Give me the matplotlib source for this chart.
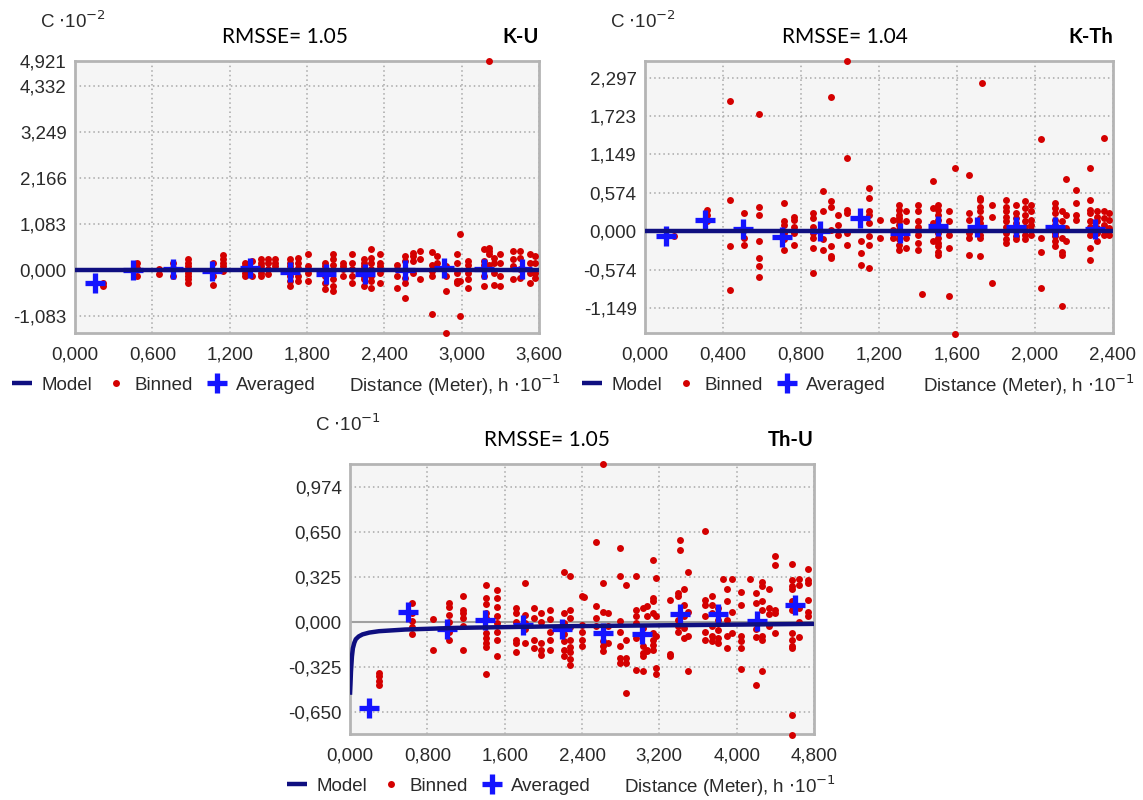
import matplotlib
matplotlib.use("Agg")
import matplotlib.pyplot as plt
from matplotlib import font_manager

# ---------------- data ----------------
# Panel K-U (C x10^-2, h x10^-1)
ku_bin_x = [0.22, 0.48, 0.65, 0.76, 0.88, 1.07, 1.15, 1.32, 1.37, 1.44, 1.50, 1.55,
            1.67, 1.73, 1.81, 1.94, 2.00, 2.08, 2.15, 2.24, 2.30, 2.37, 2.50, 2.56,
            2.62, 2.68, 2.77, 2.81, 2.88, 2.96, 2.99, 3.05, 3.17, 3.21, 3.25, 3.30,
            3.40, 3.45, 3.53, 3.57]
ku_bin_y = [[-0.30, -0.38], [0.17, -0.14, 0.05], [0.02, -0.10], [0.17, -0.14, 0.05],
            [0.25, 0.17, 0.09, 0.0, -0.06, -0.14, -0.22, -0.30], [0.17, -0.14, -0.34],
            [0.35, 0.25, 0.17, 0.09, -0.02], [0.17, 0.09, -0.06, -0.14], [0.21, -0.14],
            [0.25, 0.17, 0.09, -0.06, -0.14], [0.25, 0.17, 0.02, -0.10], [0.25, 0.17, 0.09],
            [0.25, 0.17, 0.09, -0.06, -0.14, -0.26, -0.38], [0.29, 0.17, 0.05, -0.14, -0.26],
            [0.37, 0.09, -0.06, -0.26], [0.17, 0.09, -0.02, -0.14, -0.30, -0.45],
            [0.39, 0.25, 0.13, -0.22, -0.38, -0.49], [0.17, 0.09, 0.02, -0.14],
            [0.39, 0.17, 0.02, -0.14, -0.30], [0.25, 0.17, 0.09, 0.02, -0.14, -0.22, -0.38],
            [0.49, 0.29, 0.17, 0.02, -0.14, -0.26, -0.42], [0.37, 0.17, 0.09, -0.06, -0.30],
            [0.13, 0.02, -0.14, -0.42], [0.33, 0.21, -0.18, -0.30, -0.65],
            [0.41, 0.33, 0.21, -0.06], [0.45, 0.25, -0.22], [0.42, 0.13, -0.02, -0.14, -1.04],
            [0.33, 0.17], [0.09, -0.14, -0.49, -1.47], [0.37, 0.17, -0.06, -0.26, -0.30],
            [0.84, -0.26, -1.08], [0.21, 0.13, -0.06, -0.22, -0.42],
            [0.49, 0.21, 0.13, -0.14, -0.38], [0.53, 0.45, 0.37, 0.13, 4.92],
            [0.29, 0.17, -0.06, -0.34], [0.37, 0.17, -0.14, -0.38], [0.45, 0.25, 0.09, -0.22],
            [0.45, 0.29, 0.02, -0.18], [0.37, 0.17, -0.06, -0.30], [0.33, 0.17, -0.06, -0.18]]
ku_avg_x = [0.155, 0.45, 0.76, 1.06, 1.36, 1.67, 1.95, 2.25, 2.56, 2.86, 3.17, 3.47]
ku_avg_y = [-0.31, 0.0, 0.03, -0.02, 0.04, -0.05, -0.09, -0.08, 0.0, 0.05, 0.03, 0.03]
ku_model_x = [0.0, 3.6]
ku_model_y = [0.0, 0.0]

# Panel K-Th (C x10^-2, h x10^-1)
kth_bin_x = [0.15, 0.32, 0.434, 0.51, 0.584, 0.714, 0.766, 0.864, 0.912, 0.955, 0.99,
             1.037, 1.11, 1.147, 1.207, 1.27, 1.30, 1.34, 1.40, 1.42, 1.476, 1.50, 1.56,
             1.59, 1.66, 1.72, 1.73, 1.78, 1.85, 1.90, 1.95, 1.98, 2.03, 2.10, 2.14, 2.16,
             2.21, 2.28, 2.32, 2.356, 2.38]
kth_bin_y = [[-0.075], [0.32, 0.25, 0.15], [1.94, 0.47, -0.22, -0.88], [0.27, 0.02, -0.10, -0.20],
             [1.75, 0.37, 0.25, -0.15, -0.40, -0.52, -0.68], [0.42, 0.15, 0.10, -0.02, -0.12, -0.27],
             [0.22, 0.17, 0.07, -0.02, -0.20], [0.27, 0.20, 0.07, -0.02, -0.10, -0.25, -0.62],
             [0.60, 0.30, -0.12, -0.27], [2.0, 0.45, 0.37, 0.02, -0.22, -0.37, -0.40],
             [0.25, 0.10, -0.05], [2.54, 1.09, 0.32, 0.27, -0.02, -0.20], [-0.15, -0.32, -0.50],
             [0.65, 0.50, 0.30, 0.25, 0.12, -0.07, -0.20, -0.55], [0.17, -0.10],
             [0.17, 0.02, -0.10],
             [0.40, 0.32, 0.25, 0.20, 0.15, 0.10, 0.02, -0.05, -0.12, -0.20, -0.27],
             [0.30, 0.15, -0.10, -0.25], [0.40, 0.30, 0.15, 0.07, 0.0, -0.05, -0.17, -0.27],
             [-0.93], [0.75, 0.35, 0.12, -0.15],
             [0.40, 0.32, 0.25, 0.17, 0.07, -0.02, -0.10, -0.17, -0.22, -0.30, -0.35],
             [-0.96, 0.30, 0.15, -0.05, -0.25], [0.95, -1.53], [0.84, 0.27, 0.17, -0.02, -0.10, -0.35],
             [0.50, 0.47, 0.37, 0.30, 0.20, 0.12, 0.02, -0.05, -0.10, -0.37], [2.22],
             [0.40, 0.22, -0.77], [0.47, 0.37, 0.30, 0.22, 0.15, 0.07, -0.02, -0.12, -0.17],
             [0.40, 0.27, 0.20, 0.12, 0.0, -0.07, -0.12], [0.45, 0.35, 0.25, 0.15, 0.07, -0.05, -0.12],
             [0.40, 0.30, 0.17, 0.10, 0.02, -0.05], [1.38, -0.10, -0.30, -0.85],
             [0.42, 0.35, 0.27, 0.17, 0.10, -0.02, -0.07, -0.15, -0.22],
             [0.30, 0.15, -0.10, -0.30, -0.35, -1.11], [0.78, 0.25, 0.05, -0.15],
             [0.62, 0.42, 0.25, 0.17], [0.95, 0.47, 0.32, 0.27, 0.15, 0.07, -0.05, -0.25, -0.42],
             [0.30, 0.22, 0.15, 0.05, -0.02, -0.15], [1.40, 0.30, 0.20, 0.10, -0.05],
             [0.27, 0.17, 0.05, -0.05]]
kth_avg_x = [0.108, 0.306, 0.503, 0.70, 0.898, 1.104, 1.307, 1.505, 1.70, 1.905, 2.10, 2.307]
kth_avg_y = [-0.075, 0.175, 0.035, -0.085, 0.0, 0.2, -0.02, 0.08, 0.07, 0.07, 0.06, 0.03]
kth_model_x = [0.0, 2.4]
kth_model_y = [0.0, 0.0]

# Panel Th-U (C x10^-1, h x10^-1)
thu_bin_x = [0.30, 0.638, 0.855, 1.02, 1.17, 1.41, 1.52, 1.72, 1.81, 1.90, 1.98, 2.07, 2.21,
             2.28, 2.40, 2.42, 2.55, 2.62, 2.67, 2.79, 2.85, 2.96, 3.03, 3.07, 3.13, 3.17,
             3.31, 3.39, 3.41, 3.45, 3.50, 3.67, 3.74, 3.81, 3.86, 3.90, 3.95, 4.05, 4.14,
             4.20, 4.26, 4.33, 4.40, 4.57, 4.64, 4.74]
thu_bin_y = [[-0.37, -0.39, -0.43, -0.46], [0.14, 0.065, 0.005, -0.04, -0.09], [0.02, -0.20],
             [0.14, 0.11, 0.05, 0.0, -0.07, -0.13], [0.185, 0.09, 0.065, 0.03, -0.03, -0.20],
             [0.27, 0.17, 0.13, 0.065, 0.03, -0.08, -0.115, -0.15, -0.18, -0.38],
             [0.23, 0.17, 0.11, 0.04, -0.01, -0.07, -0.13, -0.25],
             [0.10, 0.065, 0.0, -0.13, -0.15, -0.22], [0.28, 0.05, -0.01, -0.05, -0.15],
             [0.10, 0.03, -0.13, -0.19], [0.065, 0.0, -0.15, -0.20, -0.24],
             [0.09, 0.02, -0.07, -0.13, -0.20], [0.36, 0.065, -0.01, -0.09, -0.14, -0.20, -0.25],
             [0.33, 0.09, 0.03, -0.04, -0.13, -0.18, -0.22, -0.27, -0.31],
             [0.185, -0.02, -0.07, -0.13, -0.175], [0.18], [0.575, 0.115, 0.03, -0.03],
             [1.14, 0.28, 0.075, -0.14, -0.175, -0.21], [0.065, -0.03, -0.15],
             [0.534, 0.33, 0.005, -0.07, -0.175, -0.26, -0.295],
             [0.27, -0.13, -0.26, -0.295, -0.515], [0.33, 0.09, 0.04, -0.01, -0.115, -0.35],
             [0.10, -0.045, -0.175, -0.225, -0.25, -0.355], [0.115, 0.04, -0.20, -0.21],
             [0.45, 0.175, 0.15, 0.065, -0.08, -0.13, -0.165, -0.20],
             [0.32, 0.04, -0.10, -0.33, -0.38], [0.16, -0.235, -0.25],
             [0.21, 0.185, 0.015, -0.03, -0.07], [0.595, 0.52], [0.235, 0.125, 0.04, -0.045, -0.115],
             [0.365, 0.075, -0.10, -0.355], [0.655, 0.16, 0.125, 0.04, -0.07, -0.13],
             [0.185, 0.125, 0.065, -0.03, -0.105, -0.14], [0.10, 0.015, -0.055, -0.115, -0.15],
             [0.31], [0.235, 0.15, 0.015, -0.105, -0.19], [0.31, 0.075, -0.08],
             [0.22, 0.125, -0.105, -0.14, -0.19, -0.34], [0.31], [0.21, 0.135, -0.05, -0.11, -0.46],
             [0.29, 0.26, 0.15, 0.09, -0.105, -0.13, -0.355], [0.235, 0.10, 0.055, -0.03],
             [0.48, 0.41, 0.09, 0.065, -0.08],
             [0.42, 0.30, 0.26, 0.235, 0.15, 0.09, -0.08, -0.13, -0.175, -0.19, -0.67, -0.815],
             [0.31, 0.27, 0.10, 0.0, -0.11], [0.385, 0.30, 0.28, 0.16, 0.075, 0.04]]
thu_avg_x = [0.2, 0.603, 1.0, 1.397, 1.79, 2.19, 2.62, 3.02, 3.41, 3.81, 4.21, 4.60]
thu_avg_y = [-0.626, 0.072, -0.05, 0.017, -0.02, -0.05, -0.08, -0.085, 0.06, 0.06, 0.005, 0.125]
thu_model_x = [0.0, 0.005, 0.01, 0.02, 0.03, 0.045, 0.06, 0.09, 0.13, 0.2, 0.3, 0.57, 1.1, 2.2, 3.3, 4.8]
thu_model_y = [-0.527, -0.45, -0.36, -0.25, -0.19, -0.15, -0.125, -0.105, -0.09, -0.077, -0.067,
               -0.055, -0.043, -0.031, -0.024, -0.014]

ku_xticks = [0.0, 0.6, 1.2, 1.8, 2.4, 3.0, 3.6]
ku_xlabels = ["0,000", "0,600", "1,200", "1,800", "2,400", "3,000", "3,600"]
ku_yticks = [-1.083, 0.0, 1.083, 2.166, 3.249, 4.332, 4.921]
ku_ylabels = ["-1,083", "0,000", "1,083", "2,166", "3,249", "4,332", "4,921"]

kth_xticks = [0.0, 0.4, 0.8, 1.2, 1.6, 2.0, 2.4]
kth_xlabels = ["0,000", "0,400", "0,800", "1,200", "1,600", "2,000", "2,400"]
kth_yticks = [-1.149, -0.574, 0.0, 0.574, 1.149, 1.723, 2.297]
kth_ylabels = ["-1,149", "-0,574", "0,000", "0,574", "1,149", "1,723", "2,297"]

thu_xticks = [0.0, 0.8, 1.6, 2.4, 3.2, 4.0, 4.8]
thu_xlabels = ["0,000", "0,800", "1,600", "2,400", "3,200", "4,000", "4,800"]
thu_yticks = [-0.650, -0.325, 0.0, 0.325, 0.650, 0.974]
thu_ylabels = ["-0,650", "-0,325", "0,000", "0,325", "0,650", "0,974"]

# ---------------- style ----------------
avail = {f.name for f in font_manager.fontManager.ttflist}
NARROW = [f for f in ["Liberation Sans", "Arimo"] if f in avail] + ["DejaVu Sans"]
TITLEF = [f for f in ["Lato", "Open Sans", "Liberation Sans"] if f in avail] + ["DejaVu Sans"]

RED = "#d40000"
BLUE = "#1414ff"
NAVY = "#0f0f80"
TXT = "#2a2a2a"
FS = 13.5


def flatten(xs, cols):
    X, Y = [], []
    for x, col in zip(xs, cols):
        for y in col:
            X.append(x)
            Y.append(y)
    return X, Y


fig = plt.figure(figsize=(11.43, 8.0), dpi=100)


def panel(rect, bx, by, ax_, ay_, mx, my, xlim, ylim, xt, xl, yt, yl, exp, rmsse, name, rx):
    ax = fig.add_axes(rect)
    w_px = rect[2] * 1143
    h_px = rect[3] * 800
    ax.set_facecolor("#f5f5f5")
    for s in ax.spines.values():
        s.set_color("#b4b4b4")
        s.set_linewidth(2)
    ax.set_xlim(*xlim)
    ax.set_ylim(*ylim)
    ax.set_xticks(xt)
    ax.set_xticklabels(xl, family=NARROW, fontsize=FS, color=TXT)
    ax.set_yticks(yt)
    ax.set_yticklabels(yl, family=NARROW, fontsize=FS, color=TXT)
    ax.tick_params(length=0, pad=6)
    ax.tick_params(axis="x", pad=10)
    ax.grid(True, color="#a8a8a8", linestyle=(0, (1, 2)), linewidth=1.1)
    ax.set_axisbelow(True)
    ax.axhline(0, color="#a0a0a0", lw=1.5, zorder=1)
    X, Y = flatten(bx, by)
    hb, = ax.plot(X, Y, "o", color=RED, ms=5.0, mew=0, zorder=3, clip_on=False, label="Binned")
    ha, = ax.plot(ax_, ay_, "+", color=BLUE, ms=14, mew=3.8, zorder=4, label="Averaged")
    hm, = ax.plot(mx, my, "-", color=NAVY, lw=3.2, zorder=5, solid_capstyle="butt", label="Model")
    leg = ax.legend(handles=[hm, hb, ha], labels=["Model", "Binned", "Averaged"], ncol=3,
                    loc="center left", bbox_to_anchor=(-63 / w_px, -52 / h_px), frameon=False,
                    prop={"family": NARROW, "size": FS}, handlelength=1.05, handletextpad=0.5,
                    columnspacing=0.75, borderaxespad=0, borderpad=0, markerscale=1.0)
    for t in leg.get_texts():
        t.set_color(TXT)
    ax.set_xlabel("Distance (Meter), h $\\cdot$10$^{-1}$", family=NARROW, fontsize=FS,
                  color=TXT, ha="right", va="center")
    ax.xaxis.set_label_coords(1 + 22 / w_px, -52 / h_px)
    ax.text(-35 / w_px, 1 + 40 / h_px, "C $\\cdot$10$^{%d}$" % exp, transform=ax.transAxes,
            family=NARROW, fontsize=FS, color=TXT, ha="left", va="center")
    ax.text(rx, 1 + 24 / h_px, "RMSSE= %s" % rmsse, transform=ax.transAxes, family=TITLEF,
            fontsize=15, color="black", ha="center", va="center")
    ax.text(1.0, 1 + 24 / h_px, name, transform=ax.transAxes, family=TITLEF, fontsize=14.5,
            fontweight="bold", color="black", ha="right", va="center")
    return ax


panel([75 / 1143, 1 - 333 / 800, 464 / 1143, 272 / 800], ku_bin_x, ku_bin_y, ku_avg_x, ku_avg_y,
      ku_model_x, ku_model_y, (0, 3.6), (-1.48, 4.921), ku_xticks, ku_xlabels, ku_yticks, ku_ylabels,
      -2, "1.05", "K-U", 0.453)
panel([645 / 1143, 1 - 333 / 800, 468 / 1143, 272 / 800], kth_bin_x, kth_bin_y, kth_avg_x, kth_avg_y,
      kth_model_x, kth_model_y, (0, 2.4), (-1.516, 2.544), kth_xticks, kth_xlabels, kth_yticks,
      kth_ylabels, -2, "1.04", "K-Th", 0.427)
panel([350 / 1143, 1 - 734 / 800, 464 / 1143, 270 / 800], thu_bin_x, thu_bin_y, thu_avg_x, thu_avg_y,
      thu_model_x, thu_model_y, (0, 4.8), (-0.811, 1.143), thu_xticks, thu_xlabels, thu_yticks,
      thu_ylabels, -1, "1.05", "Th-U", 0.425)

fig.savefig("out.png", dpi=100, facecolor="white")
